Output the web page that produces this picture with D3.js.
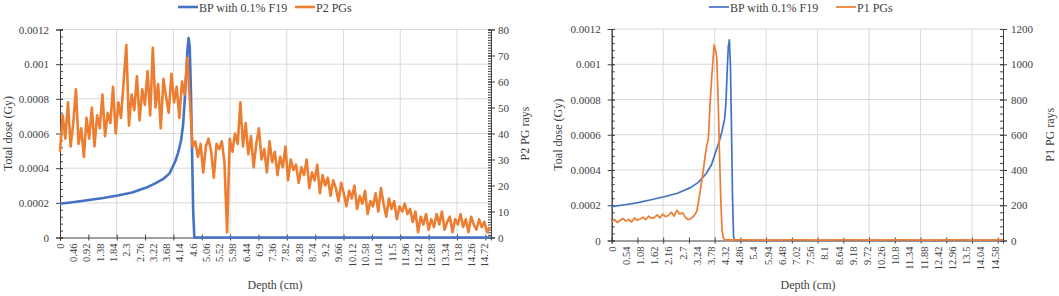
<!DOCTYPE html>
<html>
<head>
<meta charset="utf-8">
<script src="https://cdn.jsdelivr.net/npm/d3@7"></script>
<style>
  body { margin: 0; background: #fff; }
</style>
</head>
<body>
<div id="chart"></div>
<script>
// ---------------------------------------------------------------
// Two dual-axis panels: Bragg peak dose vs prompt-gamma counts
// ---------------------------------------------------------------

const serif = "'Liberation Serif', 'Times New Roman', serif";

// Category labels on the depth axes
const xLabelsP2 = ["0","0.46","0.92","1.38","1.84","2.3","2.76","3.22","3.68","4.14","4.6","5.06",
  "5.52","5.98","6.44","6.9","7.36","7.82","8.28","8.74","9.2","9.66","10.12","10.58","11.04",
  "11.5","11.96","12.42","12.88","13.34","13.8","14.26","14.72"];
const xLabelsP1 = ["0","0.54","1.08","1.62","2.16","2.7","3.24","3.78","4.32","4.86","5.4","5.94",
  "6.48","7.02","7.56","8.1","8.64","9.18","9.72","10.26","10.8","11.34","11.88","12.42","12.96",
  "13.5","14.04","14.58"];

// Left panel: BP with 0.1% F19 (total dose, Gy)
const bpDepthL = [0, 0.5, 1, 1.5, 2, 2.5, 3, 3.3, 3.6, 3.8, 4.0, 4.1, 4.2, 4.27, 4.33, 4.38,
  4.42, 4.46, 4.5, 4.54, 4.58, 4.62, 4.66, 14.95];
const bpDoseL = [0.000195, 0.000205, 0.000216, 0.000228, 0.000242, 0.00026, 0.000288, 0.000312,
  0.00034, 0.00037, 0.00044, 0.00049, 0.00056, 0.00065, 0.0008, 0.00095, 0.00108, 0.00115,
  0.0011, 0.00085, 0.0005, 0.00015, 0, 0];

// Left panel: P2 PGs counts, one value every 0.092 cm
const p2Step = 0.092;
const p2Rays = [
  33, 47, 38, 52, 35, 44, 57, 36, 42, 31,
  46, 38, 50, 35, 47, 42, 55, 39, 48, 44,
  58, 40, 52, 46, 60, 74, 43, 55, 49, 62,
  45, 57, 51, 64, 47, 73, 50, 59, 42, 61,
  54, 48, 63, 52, 58, 46, 60, 55, 69, 52,
  35, 37, 31, 36, 25, 35, 38, 33, 23, 36,
  34, 37, 29, 2, 38, 33, 40, 36, 52, 35,
  44, 32, 39, 27, 36, 42, 30, 34, 25, 37,
  29, 33, 24, 31, 27, 35, 22, 30, 26, 28,
  21, 27, 24, 30, 19, 25, 22, 28, 17, 24,
  20, 23, 16, 22, 19, 14, 21, 17, 12, 18,
  15, 20, 11, 16, 13, 18, 9, 14, 12, 17,
  10, 19, 13, 8, 15, 11, 14, 7, 12, 10,
  13, 9, 11, 6, 10, 2, 8, 5, 9, 3,
  7, 4, 9, 5, 10, 3, 6, 8, 2, 7,
  5, 9, 4, 7, 2, 8, 5, 3, 7, 4,
  6, 2, 4];

// Right panel: BP with 0.1% F19
const bpDepthR = [0, 0.5, 1, 1.5, 2, 2.5, 3, 3.3, 3.6, 3.8, 4.0, 4.1, 4.2, 4.3, 4.35, 4.4,
  4.44, 4.48, 4.52, 4.56, 4.6, 4.64, 4.7, 14.9];
const bpDoseR = [0.000192, 0.000203, 0.000215, 0.000231, 0.000248, 0.000268, 0.0003, 0.00033,
  0.00038, 0.00043, 0.00052, 0.000565, 0.00062, 0.00069, 0.00078, 0.00097, 0.0011, 0.001138,
  0.001, 0.00065, 0.00025, 0.00002, 0, 0];

// Right panel: P1 PGs counts
const p1Depth = [0, 0.108, 0.216, 0.324, 0.432, 0.54, 0.648, 0.756, 0.864, 0.972, 1.08, 1.188,
  1.296, 1.404, 1.512, 1.62, 1.728, 1.836, 1.944, 2.052, 2.16, 2.268, 2.376, 2.484, 2.592, 2.7,
  2.808, 2.916, 3.024, 3.132, 3.24, 3.3, 3.36, 3.42, 3.49, 3.55, 3.62, 3.68, 3.74, 3.81, 3.86,
  3.9, 3.95, 4.0, 4.06, 4.1, 4.15, 4.2, 4.25, 4.3, 4.4, 5, 6, 7, 8, 9, 10, 11, 12, 13, 14, 14.9];
const p1Rays = [108, 118, 102, 115, 125, 110, 120, 105, 128, 115, 122, 132, 118, 138, 126, 130,
  145, 128, 150, 135, 142, 160, 138, 172, 150, 158, 130, 118, 125, 140, 165, 215, 270, 330, 400,
  470, 540, 575, 760, 930, 1030, 1110, 1080, 1040, 760, 520, 249, 60, 15, 6, 4, 3, 2, 3, 2, 3, 2,
  3, 2, 3, 2, 3];

const blue = "#4472C4", orange = "#ED7D31";

const svg = d3.select("#chart").append("svg")
  .attr("width", 1059).attr("height", 296)
  .style("font-family", serif);

const panels = [
  { x0: 60, x1: 491, y0: 29.5, y1: 237.5, xMax: 14.95, labels: xLabelsP2, grid: 1.967,
    rMax: 80, rStep: 10, rMinor: 1, lw: 2.6, lMinor: 0.00004, rPad: 3,
    bp: [bpDepthL, bpDoseL], pg: [p2Rays.map((v, i) => i * p2Step), p2Rays],
    pgName: "P2 PGs", leftTitle: "Total dose (Gy)", rightTitle: "P2 PG rays",
    legX: 178, legX2: 295, leftTitleX: 12, rightTitleX: 529, depthX: 275 },
  { x0: 611.7, x1: 1003, y0: 29, y1: 240.5, xMax: 14.9, labels: xLabelsP1, grid: 1.96,
    rMax: 1200, rStep: 200, rMinor: 40, lw: 1.7, lMinor: 0.00004, rPad: 4,
    bp: [bpDepthR, bpDoseR], pg: [p1Depth, p1Rays],
    pgName: "P1 PGs", leftTitle: "Toal dose (Gy)", rightTitle: "P1 PG rays",
    legX: 709, legX2: 836, leftTitleX: 562, rightTitleX: 1054, depthX: 808 }
];

const fmtDose = d => d === 0 ? "0" : String(+d.toFixed(4));

panels.forEach(function (p) {
  const g = svg.append("g");
  const x = d3.scaleLinear().domain([0, p.xMax]).range([p.x0, p.x1]);
  const yL = d3.scaleLinear().domain([0, 0.0012]).range([p.y1, p.y0]);
  const yR = d3.scaleLinear().domain([0, p.rMax]).range([p.y1, p.y0]);

  const leftTicks = d3.range(0, 0.00121, 0.0002);

  // Gridlines
  g.append("g").selectAll("line")
    .data(leftTicks.slice(1))
    .join("line")
    .attr("x1", p.x0).attr("x2", p.x1)
    .attr("y1", d => yL(d)).attr("y2", d => yL(d))
    .attr("stroke", "#d9d9d9").attr("stroke-width", 1);

  g.append("g").selectAll("line")
    .data(d3.range(p.grid, p.xMax, p.grid))
    .join("line")
    .attr("x1", d => x(d)).attr("x2", d => x(d))
    .attr("y1", p.y0).attr("y2", p.y1)
    .attr("stroke", "#d9d9d9").attr("stroke-width", 1);

  // Left axis (major + minor)
  const la = g.append("g")
    .attr("transform", `translate(${p.x0},0)`)
    .call(d3.axisLeft(yL).tickValues(leftTicks).tickFormat(fmtDose).tickSize(4).tickPadding(7));
  la.selectAll(".tick line").attr("x1", 3);
  g.append("g")
    .attr("transform", `translate(${p.x0},0)`)
    .call(d3.axisLeft(yL).tickValues(d3.range(0, 0.001201, p.lMinor)).tickSize(-3).tickFormat(""));

  // Right axis (major + minor)
  const ra = g.append("g")
    .attr("transform", `translate(${p.x1},0)`)
    .call(d3.axisRight(yR).tickValues(d3.range(0, p.rMax + 1, p.rStep))
      .tickFormat(d3.format("d")).tickSize(4).tickPadding(p.rPad));
  ra.selectAll(".tick line").attr("x1", -3);
  g.append("g")
    .attr("transform", `translate(${p.x1},0)`)
    .call(d3.axisRight(yR).tickValues(d3.range(0, p.rMax + 0.001, p.rMinor)).tickSize(-3).tickFormat(""));

  // Bottom axis: tick marks and rotated category labels
  const ba = g.append("g")
    .attr("transform", `translate(0,${p.y1})`)
    .call(d3.axisBottom(x).tickValues(d3.range(0, p.xMax, p.grid / 2)).tickSize(3).tickFormat(""));
  ba.selectAll(".tick line").attr("y1", -3);

  const bl = g.append("g")
    .attr("transform", `translate(0,${p.y1})`)
    .call(d3.axisBottom(x).tickValues(p.labels.map(Number)).tickSize(0)
      .tickFormat((d, i) => p.labels[i]));
  bl.select(".domain").remove();
  bl.selectAll("text")
    .attr("transform", "rotate(-90)")
    .attr("text-anchor", "end")
    .attr("x", -6).attr("y", 0).attr("dy", "0.33em")
    .style("font-size", "10.5px");

  la.selectAll("text").style("font-size", "11px");
  ra.selectAll("text").style("font-size", "11px");
  g.selectAll(".tick text").style("font-family", serif).style("fill", "#404040");
  g.selectAll(".domain, .tick line").attr("stroke", "#404040");

  // Series
  const bpData = p.bp[0].map((d, i) => [d, p.bp[1][i]]);
  const pgData = p.pg[0].map((d, i) => [d, p.pg[1][i]]);

  g.append("path")
    .datum(bpData)
    .attr("fill", "none").attr("stroke", blue).attr("stroke-width", p.lw)
    .attr("stroke-linejoin", "round")
    .attr("d", d3.line().x(d => x(d[0])).y(d => yL(d[1])));

  g.append("path")
    .datum(pgData)
    .attr("fill", "none").attr("stroke", orange).attr("stroke-width", p.lw)
    .attr("stroke-linejoin", "round")
    .attr("d", d3.line().x(d => x(d[0])).y(d => yR(d[1])));

  // Axis titles
  const title = (tx, ty, rot, s) => g.append("text")
    .attr("transform", `translate(${tx},${ty})` + (rot ? " rotate(-90)" : ""))
    .attr("text-anchor", "middle")
    .style("font-family", serif).style("font-size", "12px").style("fill", "#404040")
    .text(s);
  title(p.leftTitleX, (p.y0 + p.y1) / 2, true, p.leftTitle);
  title(p.rightTitleX, (p.y0 + p.y1) / 2, true, p.rightTitle);
  title(p.depthX, 289, false, "Depth (cm)");

  // Legend
  const leg = [[p.legX, blue, "BP with 0.1% F19"], [p.legX2, orange, p.pgName]];
  leg.forEach(function (l) {
    g.append("line")
      .attr("x1", l[0]).attr("x2", l[0] + 20).attr("y1", 7).attr("y2", 7)
      .attr("stroke", l[1]).attr("stroke-width", p.lw);
    g.append("text")
      .attr("x", l[0] + 21).attr("y", 11.5)
      .style("font-family", serif).style("font-size", "12px").style("fill", "#404040")
      .text(l[2]);
  });
});
</script>
</body>
</html>
